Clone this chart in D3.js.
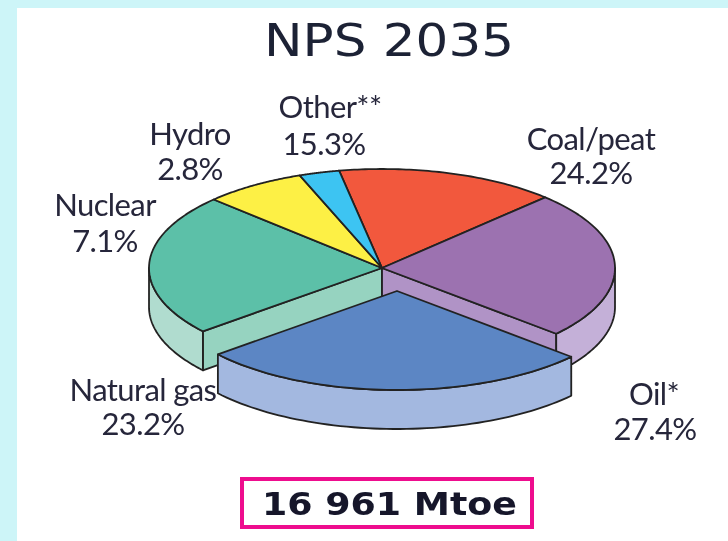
<!DOCTYPE html>
<html>
<head>
<meta charset="utf-8">
<script src="https://cdn.jsdelivr.net/npm/d3@7"></script>
<style>
  html, body { margin: 0; padding: 0; background: #cdf5f8; }
  svg { display: block; }
</style>
</head>
<body>
<div id="plot"></div>
<script>
// order runs clockwise from the Other slice
const categories = ['Other**', 'Coal/peat', 'Oil*', 'Natural gas', 'Nuclear', 'Hydro'];
const shares = [15.3, 24.2, 27.4, 23.2, 7.1, 2.8];
const topColors = ['#f2583c', '#9c72b0', '#5b86c4', '#5cc0a8', '#fdf044', '#3ec4f2'];
const rimColors = ['#f2583c', '#c4b0d8', '#a3b8e0', '#b0dccf', '#fdf044', '#3ec4f2'];
const cutColors = ['#f2583c', '#b093c6', '#a3b8e0', '#96d3c0', '#fdf044', '#3ec4f2'];
const titleText = 'NPS 2035';
const totalText = '16 961 Mtoe';

window.addEventListener('load', main);

function main(){
  let [ figWidth, figHeight ] = [728, 541];
  let svg = d3.select('#plot').append('svg')
                              .attr('width', figWidth)
                              .attr('height', figHeight);

  svg.append('rect').attr('x', 17).attr('y', 8)
     .attr('width', figWidth - 17).attr('height', figHeight - 8)
     .attr('fill', '#fff');

  // slight blur, the reference is an enlarged scan
  let defs = svg.append('defs');
  defs.append('filter').attr('id', 'soft')
      .append('feGaussianBlur').attr('stdDeviation', 0.7);

  let chart = svg.append('g').attr('filter', 'url(#soft)');

  // pie layout in radians, clockwise from 12 o'clock
  let startDeg = -10.6;
  let pie = d3.pie().value(d => d.share).sort(null)
              .startAngle(startDeg * Math.PI / 180)
              .endAngle((startDeg + 360) * Math.PI / 180);
  let slices = pie(categories.map((c, i) => ({ name: c, share: shares[i], i: i })));

  // unit circle to page scales
  let [ cx, cy, rx, ry, depth ] = [382, 268, 233, 99, 39];
  let explode = { 'Oil*': [15, 23] };
  let scX = d3.scaleLinear().domain([-1, 1]).range([cx - rx, cx + rx]);
  let scY = d3.scaleLinear().domain([-1, 1]).range([cy + ry, cy - ry]);

  let rimPoint = a => [Math.sin(a), Math.cos(a)];
  let arcPoints = (a0, a1) => d3.range(0, 61).map(k => rimPoint(a0 + (a1 - a0) * k / 60));

  let lineAt = (dx, dy) => d3.line()
      .x(p => scX(p[0]) + dx)
      .y(p => scY(p[1]) + dy);

  let stroke = '#222';
  let drawPath = function(d, fill){
    chart.append('path').attr('d', d)
         .attr('fill', fill).attr('stroke', stroke)
         .attr('stroke-width', 1.8).attr('stroke-linejoin', 'round');
  };

  // side wall below the visible part of a slice rim
  let drawRim = function(s, dx, dy){
    let a0 = Math.max(s.startAngle, Math.PI / 2);
    let a1 = Math.min(s.endAngle, 3 * Math.PI / 2);
    if (a1 <= a0) return;
    let upper = arcPoints(a0, a1);
    drawPath(lineAt(dx, dy)(upper) + lineAt(dx, dy + depth)(upper.slice().reverse()).replace('M', 'L') + 'Z',
             rimColors[s.data.i]);
  };

  // radial cut face left open by the exploded slice
  let drawCut = function(angle, i){
    let p = rimPoint(angle);
    drawPath(lineAt(0, 0)([[0, 0], p]) + lineAt(0, depth)([p, [0, 0]]).replace('M', 'L') + 'Z', cutColors[i]);
  };

  let oil = slices[categories.indexOf('Oil*')];
  drawCut(oil.endAngle, categories.indexOf('Natural gas'));
  drawCut(oil.startAngle, categories.indexOf('Coal/peat'));

  let drawTop = function(s, dx, dy){
    drawPath(lineAt(dx, dy)([[0, 0]].concat(arcPoints(s.startAngle, s.endAngle))) + 'Z', topColors[s.data.i]);
  };

  slices.filter(s => !explode[s.data.name]).forEach(s => drawRim(s, 0, 0));
  slices.filter(s => !explode[s.data.name]).forEach(s => drawTop(s, 0, 0));
  slices.filter(s => explode[s.data.name]).forEach(s => {
    let [dx, dy] = explode[s.data.name];
    drawRim(s, dx, dy);
    drawTop(s, dx, dy);
  });

  // labels: name x, name baseline, share x, share baseline
  let labelPos = { 'Other**': [330, 118, 324, 155],
                   'Coal/peat': [591, 150, 591, 184],
                   'Oil*': [654, 405, 655, 440],
                   'Natural gas': [143, 401, 143, 435],
                   'Nuclear': [105, 216, 105, 252],
                   'Hydro': [190, 145, 190, 180] };
  let labels = chart.append('g').attr('fill', '#26263a')
                    .attr('font-family', 'Lato').attr('font-size', 31)
                    .attr('letter-spacing', -0.6).attr('text-anchor', 'middle');
  slices.forEach(s => {
    let p = labelPos[s.data.name];
    labels.append('text').attr('x', p[0]).attr('y', p[1]).text(s.data.name);
    labels.append('text').attr('x', p[2]).attr('y', p[3]).text(d3.format('.1f')(s.data.share) + '%');
  });

  chart.append('text').attr('x', 264).attr('y', 56)
       .attr('fill', '#1c2034')
       .attr('font-family', 'DejaVu Sans').attr('font-size', 45)
       .attr('textLength', 250).attr('lengthAdjust', 'spacingAndGlyphs')
       .text(titleText);

  // box stays outside the blur so its line keeps full strength
  svg.append('rect').attr('x', 242).attr('y', 479)
       .attr('width', 290).attr('height', 48)
       .attr('fill', 'none').attr('stroke', '#ee0d8e').attr('stroke-width', 4);
  chart.append('text').attr('x', 262).attr('y', 515)
       .attr('fill', '#14182c')
       .attr('font-family', 'DejaVu Sans').attr('font-weight', 'bold')
       .attr('font-size', 32)
       .attr('textLength', 255).attr('lengthAdjust', 'spacingAndGlyphs')
       .text(totalText);
}
</script>
</body>
</html>
